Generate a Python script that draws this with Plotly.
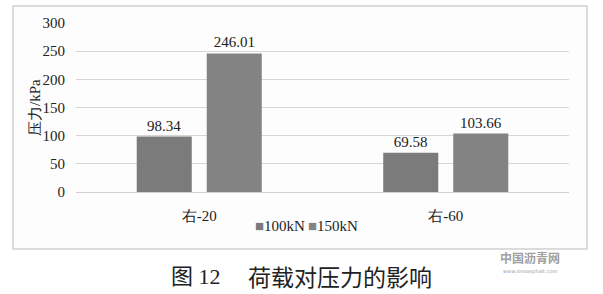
import plotly.graph_objects as go

categories = ["右-20", "右-60"]
series_names = ["100kN", "150kN"]
values_100 = [98.34, 69.58]
values_150 = [246.01, 103.66]
y_ticks = [0, 50, 100, 150, 200, 250, 300]
colors = ["#7b7b7b", "#838383"]

serif = "Times New Roman, Liberation Serif, serif"

fig = go.Figure()
for name, vals, col in [(series_names[0], values_100, colors[0]),
                        (series_names[1], values_150, colors[1])]:
    fig.add_trace(go.Bar(
        x=categories, y=vals, name=name, marker=dict(color=col, line=dict(width=0)),
        text=[f"{v:.2f}" for v in vals], textposition="outside",
        textfont=dict(family=serif, size=15, color="#222"), cliponaxis=False,
        showlegend=False,
    ))

L, R, T, B = 76, 34, 23, 102
W, H = 603, 294
pw, ph = W - L - R, H - T - B

def px(x):
    return (x - L) / pw

def py(y):
    return (H - B - y) / ph

legend_ann = []
for name, col, x0 in zip(series_names, colors, [253, 306]):
    legend_ann.append(dict(
        text=f"<span style='color:{col}'>■</span>{name}", xref="paper", yref="paper",
        x=px(x0), y=py(226), xanchor="left", yanchor="middle", showarrow=False,
        font=dict(family=serif, size=15, color="#222")))

fig.update_layout(
    width=W, height=H, margin=dict(l=L, r=R, t=T, b=B),
    paper_bgcolor="white", plot_bgcolor="#fdfdfd",
    barmode="group", bargap=0.432, bargroupgap=0.214,
    shapes=[dict(type="rect", xref="paper", yref="paper",
                 x0=px(13), x1=px(587), y0=py(249), y1=py(6),
                 line=dict(color="#d0d0d0", width=1.5), fillcolor="#fdfdfd", layer="below")],
    annotations=legend_ann + [
        dict(text="压力/kPa", xref="paper", yref="paper", textangle=-90,
             x=px(35), y=py(108), xanchor="center", yanchor="middle", showarrow=False,
             font=dict(family=serif, size=15, color="#222")),
        dict(text="图 12", xref="paper", yref="paper",
             x=px(169), y=py(276), xanchor="left", yanchor="middle", showarrow=False,
             font=dict(family="Times New Roman, Liberation Serif, Noto Sans CJK SC", size=22, color="#222")),
        dict(text="荷载对压力的影响", xref="paper", yref="paper",
             x=px(246), y=py(276), xanchor="left", yanchor="middle", showarrow=False,
             font=dict(family="Noto Sans CJK SC", size=23, color="#222")),
        dict(text="<b>中国沥青网</b>", xref="paper", yref="paper",
             x=px(530), y=py(257), xanchor="center", yanchor="middle", showarrow=False,
             font=dict(family="Noto Sans CJK SC", size=12, color="#a0a0a0")),
        dict(text="www.sinoasphalt.com", xref="paper", yref="paper",
             x=px(530), y=py(271), xanchor="center", yanchor="middle", showarrow=False,
             font=dict(family="DejaVu Sans", size=5, color="#a0a0a0")),
    ],
)
fig.update_xaxes(showgrid=False, showline=True, linecolor="#d0d0d0", linewidth=1,
                 tickfont=dict(family=serif, size=15, color="#222"), ticks="",
                 ticklabelstandoff=10)
fig.update_yaxes(range=[0, 300], tickvals=y_ticks, showgrid=True, gridcolor="#d6d6d6",
                 gridwidth=1, zeroline=False,
                 tickfont=dict(family=serif, size=15, color="#222"), ticklabelstandoff=10)

fig.write_html("out.html")
